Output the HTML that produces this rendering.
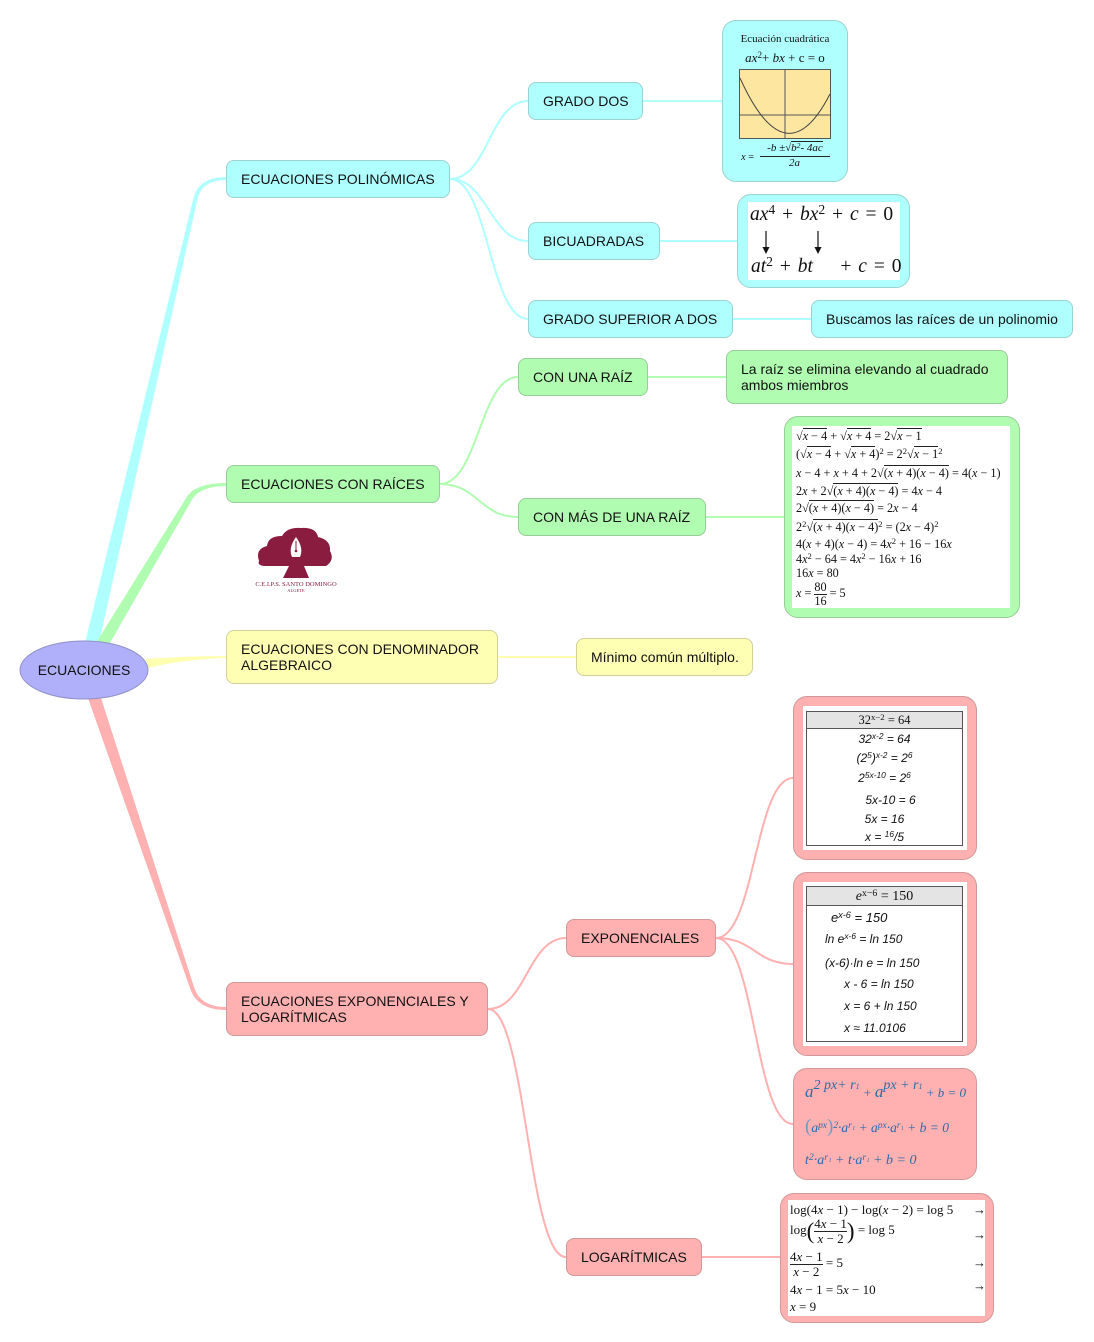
<!DOCTYPE html>
<html><head><meta charset="utf-8"><style>
body{margin:0;width:1094px;height:1342px;background:#fff;position:relative;overflow:hidden;font-family:"Liberation Sans",sans-serif;}
.n{position:absolute;box-sizing:border-box;border-width:1px;border-style:solid;border-radius:8px;padding-left:14px;display:flex;align-items:center;font-size:14px;color:#111;line-height:16px;white-space:nowrap}
.bx{position:absolute;box-sizing:border-box;border-width:1px;border-style:solid;border-radius:14px}
.c{background:#b0ffff;border-color:#9ad2d2}
.g{background:#b0fcb0;border-color:#98cc98}
.y{background:#ffffb4;border-color:#d0d09a}
.p{background:#ffb0b0;border-color:#d09898}
.w{position:absolute;background:#fff}
.ab{position:absolute;white-space:nowrap;line-height:1}
.m{font-family:"Liberation Serif",serif;color:#111}
.ov{border-top:1px solid #222}
.s{font-size:70%;position:relative;top:-0.45em}
.fr{display:inline-block;vertical-align:middle;text-align:center;line-height:1.05}
.fr>span{display:block}
.fr>span+span{border-top:1px solid #222}
.h{font-family:"Liberation Sans",sans-serif;font-style:italic;font-size:12px;color:#111}
.bl{font-family:"Liberation Serif",serif;font-style:italic;color:#2a6ca8}
</style></head><body>
<svg width="1094" height="1342" style="position:absolute;left:0;top:0">
<path d="M85 643 L193 200 Q198 177 226 177 L226 180 Q201 180 197 201 L99 643 Z" fill="#b0ffff"/>
<path d="M96 643 L188 495 Q198 483 226 483 L226 486 Q202 486 193 498 L110 643 Z" fill="#b0fcb0"/>
<path d="M146 659 Q185 656 226 656 L226 658 Q186 659 147 668 Z" fill="#ffffb0"/>
<path d="M88 698 L190 988 Q197 1010 226 1010 L226 1007 Q200 1007 194 987 L101 698 Z" fill="#ffb0b0"/>
<g fill="none" stroke-width="2">
<g stroke="#b0ffff">
<path d="M450 179 C488 179 490 101 528 101"/>
<path d="M450 179 C488 179 490 241 528 241"/>
<path d="M450 179 C488 179 490 319 528 319"/>
<path d="M643 101 H722 M660 241 H737 M733 319 H811"/>
</g>
<g stroke="#b0fcb0">
<path d="M440 484 C478 484 480 377 518 377"/>
<path d="M440 484 C478 484 480 517 518 517"/>
<path d="M648 377 H726 M706 517 H784"/>
</g>
<path stroke="#ffffb0" d="M498 657 H576"/>
<g stroke="#ffb0b0">
<path d="M488 1009 C526 1009 528 938 566 938"/>
<path d="M488 1009 C526 1009 528 1257 566 1257"/>
<path d="M716 938 C755 938 755 778 793 778"/>
<path d="M716 938 C755 938 755 964 793 964"/>
<path d="M716 938 C755 938 755 1124 793 1124"/>
<path d="M702 1257 H780"/>
</g>
</g>
<ellipse cx="84" cy="670" rx="64" ry="29" fill="#b0b0fa" stroke="#9090c8" stroke-width="1"/>
<text x="84" y="675" text-anchor="middle" font-family="Liberation Sans, sans-serif" font-size="14" fill="#111">ECUACIONES</text>
</svg>

<div class="n c" style="left:226px;top:160px;width:224px;height:38px">ECUACIONES POLINÓMICAS</div>
<div class="n g" style="left:226px;top:465px;width:214px;height:38px">ECUACIONES CON RAÍCES</div>
<div class="n y" style="left:226px;top:630px;width:272px;height:54px">ECUACIONES CON DENOMINADOR<br>ALGEBRAICO</div>
<div class="n p" style="left:226px;top:982px;width:262px;height:54px">ECUACIONES EXPONENCIALES Y<br>LOGARÍTMICAS</div>

<div class="n c" style="left:528px;top:82px;width:115px;height:38px">GRADO DOS</div>
<div class="n c" style="left:528px;top:222px;width:132px;height:38px">BICUADRADAS</div>
<div class="n c" style="left:528px;top:300px;width:205px;height:38px">GRADO SUPERIOR A DOS</div>
<div class="n c" style="left:811px;top:300px;width:262px;height:38px">Buscamos las raíces de un polinomio</div>
<div class="n g" style="left:518px;top:358px;width:130px;height:38px">CON UNA RAÍZ</div>
<div class="n g" style="left:726px;top:350px;width:282px;height:54px">La raíz se elimina elevando al cuadrado<br>ambos miembros</div>
<div class="n g" style="left:518px;top:498px;width:188px;height:38px">CON MÁS DE UNA RAÍZ</div>
<div class="n y" style="left:576px;top:638px;width:177px;height:38px">Mínimo común múltiplo.</div>
<div class="n p" style="left:566px;top:919px;width:150px;height:38px">EXPONENCIALES</div>
<div class="n p" style="left:566px;top:1238px;width:136px;height:38px">LOGARÍTMICAS</div>

<!-- quadratic box -->
<div class="bx c" style="left:722px;top:20px;width:126px;height:162px"></div>
<div class="ab m" style="left:722px;width:126px;text-align:center;top:34px;font-size:11px">Ecuación cuadrática</div>
<div class="ab m" style="left:722px;width:126px;text-align:center;top:51px;font-size:13px"><i>ax</i><span class="s">2</span>+ <i>bx</i> + c = o</div>
<svg width="1094" height="200" style="position:absolute;left:0;top:0">
<rect x="739.5" y="69.5" width="91" height="69" fill="#fde7a0" stroke="#555" stroke-width="1"/>
<line x1="785" y1="69" x2="785" y2="139" stroke="#555"/>
<line x1="739" y1="115" x2="831" y2="115" stroke="#555"/>
<path d="M740 78 Q786 180 830 94" fill="none" stroke="#444" stroke-width="1"/>
</svg>
<div class="ab m" style="left:741px;top:153px;font-size:10.5px"><i>x</i> =</div>
<div class="ab m" style="left:759px;top:143px;font-size:11px;font-style:italic;width:72px;text-align:center"><span>-b ±√<span class="ov">b<span class="s">2</span>- 4ac</span></span></div>
<div class="ab" style="left:760px;top:156px;width:70px;border-top:1px solid #222"></div>
<div class="ab m" style="left:760px;top:158px;font-size:11px;font-style:italic;width:69px;text-align:center">2a</div>

<!-- bicuadradas -->
<div class="bx c" style="left:737px;top:194px;width:173px;height:94px"></div>
<div class="w" style="left:748px;top:202px;width:152px;height:78px"></div>
<div class="ab m" style="left:750px;top:205px;font-size:19.5px;word-spacing:2px"><i>ax</i><span class="s">4</span> + <i>bx</i><span class="s">2</span> + <i>c</i> = 0</div>
<div class="ab m" style="left:751px;top:257px;font-size:19.5px;word-spacing:2px"><i>at</i><span class="s">2</span> + <i>bt</i> &nbsp;&nbsp;&nbsp;+ <i>c</i> = 0</div>
<svg width="1094" height="300" style="position:absolute;left:0;top:0">
<line x1="766" y1="231" x2="766" y2="248" stroke="#111" stroke-width="1.2"/>
<path d="M762.5 247 L766 254 L769.5 247 Z" fill="#111"/>
<line x1="818" y1="231" x2="818" y2="248" stroke="#111" stroke-width="1.2"/>
<path d="M814.5 247 L818 254 L821.5 247 Z" fill="#111"/>
</svg>

<!-- roots box -->
<div class="bx g" style="left:784px;top:416px;width:236px;height:202px"></div>
<div class="w" style="left:792px;top:426px;width:218px;height:182px"></div>
<div class="m" style="position:absolute;left:796px;top:0;font-size:12.2px">
<div class="ab" style="left:0;top:430px">√<span class="ov"><i>x</i> − 4</span> + √<span class="ov"><i>x</i> + 4</span> = 2√<span class="ov"><i>x</i> − 1</span></div>
<div class="ab" style="left:0;top:448px">(√<span class="ov"><i>x</i> − 4</span> + √<span class="ov"><i>x</i> + 4</span>)<span class="s">2</span> = 2<span class="s">2</span>√<span class="ov"><i>x</i> − 1</span><span class="s">2</span></div>
<div class="ab" style="left:0;top:467px"><i>x</i> − 4 + <i>x</i> + 4 + 2√<span class="ov">(<i>x</i> + 4)(<i>x</i> − 4)</span> = 4(<i>x</i> − 1)</div>
<div class="ab" style="left:0;top:485px">2<i>x</i> + 2√<span class="ov">(<i>x</i> + 4)(<i>x</i> − 4)</span> = 4<i>x</i> − 4</div>
<div class="ab" style="left:0;top:502px">2√<span class="ov">(<i>x</i> + 4)(<i>x</i> − 4)</span> = 2<i>x</i> − 4</div>
<div class="ab" style="left:0;top:521px">2<span class="s">2</span>√<span class="ov">(<i>x</i> + 4)(<i>x</i> − 4)</span><span class="s">2</span> = (2<i>x</i> − 4)<span class="s">2</span></div>
<div class="ab" style="left:0;top:538px">4(<i>x</i> + 4)(<i>x</i> − 4) = 4<i>x</i><span class="s">2</span> + 16 − 16<i>x</i></div>
<div class="ab" style="left:0;top:553px">4<i>x</i><span class="s">2</span> − 64 = 4<i>x</i><span class="s">2</span> − 16<i>x</i> + 16</div>
<div class="ab" style="left:0;top:567px">16<i>x</i> = 80</div>
<div class="ab" style="left:0;top:581px;line-height:1"><i>x</i> = <span class="fr"><span>80</span><span>16</span></span> = 5</div>
</div>

<!-- exp1 -->
<div class="bx p" style="left:793px;top:696px;width:184px;height:164px"></div>
<div class="w" style="left:803px;top:706px;width:164px;height:144px"></div>
<div class="ab" style="left:806px;top:711px;width:157px;height:135px;border:1px solid #555;box-sizing:border-box"></div>
<div class="ab m" style="left:807px;top:712px;width:155px;height:16px;background:#e4e4e4;border-bottom:1px solid #555;text-align:center;font-size:12.5px;line-height:16px">32<span class="s">x−2</span> = 64</div>
<div class="ab h" style="left:806px;width:157px;text-align:center;top:733px">32<span class="s">x-2</span> = 64</div>
<div class="ab h" style="left:806px;width:157px;text-align:center;top:752px">(2<span class="s">5</span>)<span class="s">x-2</span> = 2<span class="s">6</span></div>
<div class="ab h" style="left:806px;width:157px;text-align:center;top:772px">2<span class="s">5x-10</span> = 2<span class="s">6</span></div>
<div class="ab h" style="left:812px;width:157px;text-align:center;top:794px">5x-10 = 6</div>
<div class="ab h" style="left:806px;width:157px;text-align:center;top:813px">5x = 16</div>
<div class="ab h" style="left:806px;width:157px;text-align:center;top:831px">x = <span class="s">16</span>/5</div>

<!-- exp2 -->
<div class="bx p" style="left:793px;top:872px;width:184px;height:184px"></div>
<div class="w" style="left:803px;top:882px;width:164px;height:164px"></div>
<div class="ab" style="left:806px;top:886px;width:157px;height:156px;border:1px solid #555;box-sizing:border-box"></div>
<div class="ab m" style="left:807px;top:887px;width:155px;height:18px;background:#e4e4e4;border-bottom:1px solid #555;text-align:center;font-size:14px;line-height:19px"><i>e</i><span class="s">x−6</span> = 150</div>
<div class="ab h" style="left:831px;top:911px;font-size:13px">e<span class="s">x-6</span> = 150</div>
<div class="ab h" style="left:825px;top:933px">ln e<span class="s">x-6</span> = ln 150</div>
<div class="ab h" style="left:825px;top:957px">(x-6)·ln e = ln 150</div>
<div class="ab h" style="left:844px;top:978px">x - 6 = ln 150</div>
<div class="ab h" style="left:844px;top:1000px">x = 6 + ln 150</div>
<div class="ab h" style="left:844px;top:1022px">x ≈ 11.0106</div>

<!-- exp3 -->
<div class="bx p" style="left:793px;top:1068px;width:184px;height:112px"></div>
<div class="ab bl" style="left:805px;top:1083px;font-size:17px"><span>a</span><span style="font-size:14px;position:relative;top:-8px">2 px+ r<span style="font-size:8px">1</span></span><span style="font-size:13px"> + </span>a<span style="font-size:14px;position:relative;top:-8px">px + r<span style="font-size:8px">1</span></span><span style="font-size:13px"> + b = 0</span></div>
<div class="ab bl" style="left:805px;top:1117px;font-size:13.5px"><span style="font-size:19px;font-style:normal;color:#6a9cc8">(</span>a<span class="s">px</span><span style="font-size:19px;font-style:normal;color:#6a9cc8">)</span><span class="s">2</span>·a<span class="s">r₁</span> + a<span class="s">px</span>·a<span class="s">r₁</span> + b = 0</div>
<div class="ab bl" style="left:805px;top:1154px;font-size:14px">t<span class="s">2</span>·a<span class="s">r₁</span> + t·a<span class="s">r₁</span> + b = 0</div>

<!-- log box -->
<div class="bx p" style="left:780px;top:1193px;width:214px;height:130px"></div>
<div class="w" style="left:788px;top:1200px;width:197px;height:116px"></div>
<div class="m" style="position:absolute;left:790px;top:0;font-size:13px">
<div class="ab" style="left:0;top:1203px">log(4<i>x</i> − 1) − log(<i>x</i> − 2) = log 5</div>
<div class="ab" style="left:183px;top:1203px">→</div>
<div class="ab" style="left:0;top:1217px">log<span style="font-size:23px;vertical-align:middle">(</span><span class="fr"><span>4<i>x</i> − 1</span><span><i>x</i> − 2</span></span><span style="font-size:23px;vertical-align:middle">)</span> = log 5</div>
<div class="ab" style="left:183px;top:1228px">→</div>
<div class="ab" style="left:0;top:1250px"><span class="fr"><span>4<i>x</i> − 1</span><span><i>x</i> − 2</span></span> = 5</div>
<div class="ab" style="left:183px;top:1256px">→</div>
<div class="ab" style="left:0;top:1283px">4<i>x</i> − 1 = 5<i>x</i> − 10</div>
<div class="ab" style="left:183px;top:1279px">→</div>
<div class="ab" style="left:0;top:1300px"><i>x</i> = 9</div>
</div>

<!-- logo -->
<svg width="1094" height="620" style="position:absolute;left:0;top:0">
<path d="M259 561 Q255 549 267 546 Q268 536 282 536 Q287 527 301 528 Q316 527 318 537 Q331 540 330 551 Q335 560 326 566 L304 566 L309 578 L283 578 L289 566 L264 566 Q257 565 259 561 Z" fill="#8a1c40"/>
<path d="M296 537 Q304 548 300 557 L292 557 Q288 548 296 537 Z" fill="#fff"/>
<line x1="296" y1="541" x2="296" y2="550" stroke="#8a1c40" stroke-width="1"/>
<circle cx="296" cy="551" r="1.3" fill="#8a1c40"/>
<text x="296" y="586" text-anchor="middle" font-family="Liberation Serif, serif" font-size="6.5" fill="#8a1c40">C.E.I.P.S. SANTO DOMINGO</text>
<text x="296" y="592" text-anchor="middle" font-family="Liberation Serif, serif" font-size="4.5" fill="#8a1c40">ALGETE</text>
</svg>
</body></html>
